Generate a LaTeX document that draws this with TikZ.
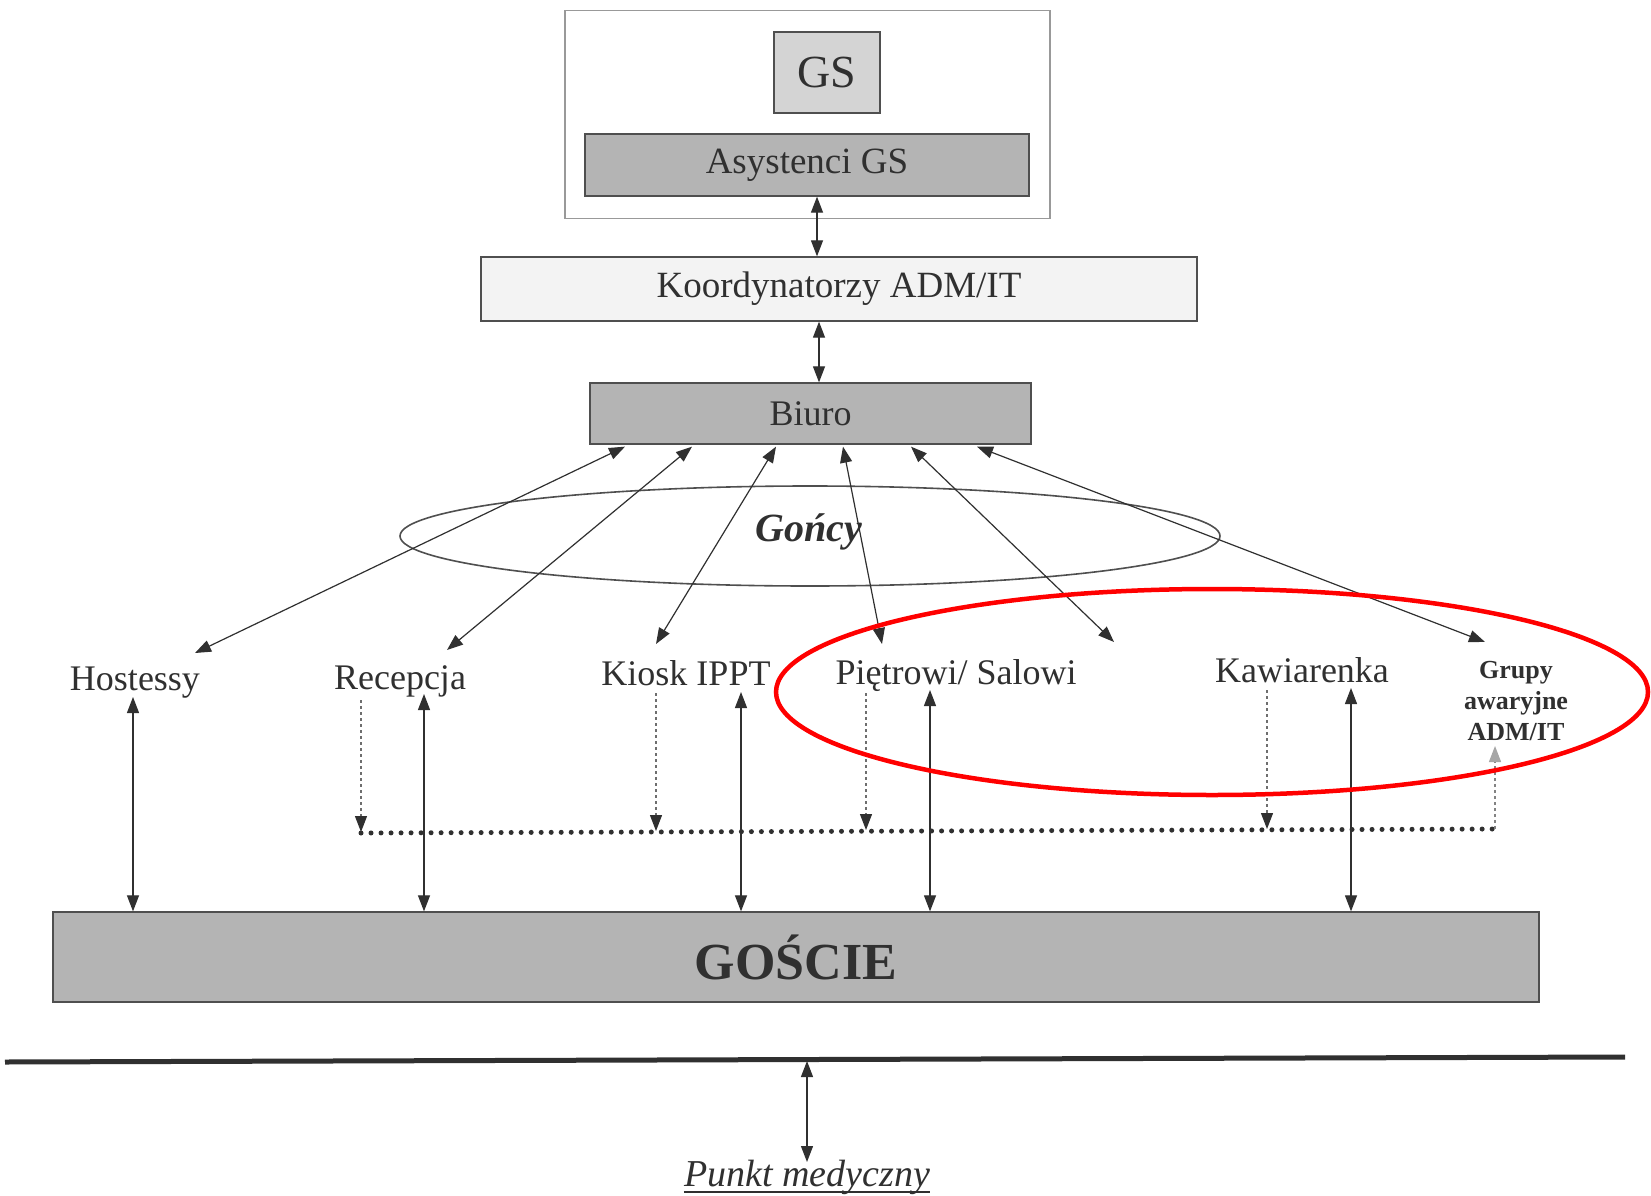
\documentclass[tikz,border=0pt]{standalone}
\usepackage{fontspec}
\setmainfont{Liberation Serif}
\usetikzlibrary{arrows.meta,calc}
\definecolor{ink}{HTML}{303030}
\definecolor{midgrey}{HTML}{B4B4B4}
\definecolor{lightgrey}{HTML}{D4D4D4}
\definecolor{palegrey}{HTML}{F3F3F3}
\begin{document}
\begin{tikzpicture}[x=1pt,y=-1pt,
  box/.style={draw=ink!85, line width=1.3pt, inner sep=0pt, text=ink},
  lab/.style={text=ink, inner sep=0pt, anchor=base, font=\fontsize{36}{40}\selectfont},
  dbl/.style={draw=ink, line width=1.2pt, {Triangle[length=16pt,width=12pt]}-{Triangle[length=16pt,width=12pt]}},
  dotv/.style={draw=ink!70, line width=1.2pt, dash pattern=on 3pt off 3pt, -{Triangle[length=16pt,width=12pt,fill=ink,color=ink]}},
  dotup/.style={draw=ink!60, line width=1.2pt, dash pattern=on 3pt off 3pt, -{Triangle[length=16pt,width=12pt,fill=gray!70,color=gray!70]}},
  dotline/.style={draw=ink, line width=5pt, line cap=round, dash pattern=on 0.01pt off 10pt},
]
\useasboundingbox (0,0) rectangle (1651,1196);
\fill[white] (0,0) rectangle (1651,1196);

% top group
\node[box, draw=gray!80, fill=white, minimum width=485pt, minimum height=208pt] (outer) at (807.5,114.75) {};
\node[box, fill=lightgrey, minimum width=106pt, minimum height=81pt, font=\fontsize{46}{50}\selectfont] (gs) at (827,72.5) {GS};
\node[box, fill=midgrey, minimum width=444pt, minimum height=62pt, font=\fontsize{37}{40}\selectfont] (asy) at (807,165) {Asystenci GS};
\node[box, fill=palegrey, minimum width=716pt, minimum height=64pt, font=\fontsize{37}{40}\selectfont] (koord) at (839,289) {Koordynatorzy ADM/IT};
\node[box, fill=midgrey, minimum width=441pt, minimum height=61pt, font=\fontsize{36}{40}\selectfont] (biuro) at (810.5,413.5) {Biuro};
\node[box, fill=midgrey, minimum width=1486pt, minimum height=90pt, font=\fontsize{52}{56}\selectfont\bfseries] (gos) at (796,957) {GOŚCIE};

\draw[dbl] (asy.south -| 817,0) -- (koord.north -| 817,0);
\draw[dbl] (koord.south -| 819,0) -- (biuro.north -| 819,0);

% Gońcy ellipse
\draw[ink!85, line width=1.6pt] (810,536) ellipse [x radius=410, y radius=50];
\node[text=ink, inner sep=0pt, font=\fontsize{40}{44}\selectfont\bfseries\itshape] (gon) at (809,532) {Gońcy};

% labels
\node[lab] (host) at (135,690.7) {Hostessy};
\node[lab] (rec) at (400,689) {Recepcja};
\node[lab] (kiosk) at (686,685.5) {Kiosk IPPT};
\node[lab] (piet) at (956,684) {Piętrowi/ Salowi};
\node[lab] (kaw) at (1302,682) {Kawiarenka};
\node[text=ink, inner sep=0pt, align=center, font=\fontsize{26}{31}\selectfont\bfseries] (grupy) at (1516,701) {Grupy\\awaryjne\\ADM/IT};

% fan arrow ends
\coordinate (hT) at (195,653);
\coordinate (rT) at (447,650);
\coordinate (kT) at (656,644);
\coordinate (pT) at (882,644);
\coordinate (sT) at (1114,642);
\coordinate (gT) at (1485,642);
\draw[dbl] ($(biuro.south)+(-185.5,2)$) -- (hT);
\draw[dbl] ($(biuro.south)+(-118.5,2)$) -- (rT);
\draw[dbl] ($(biuro.south)+(-34.5,2)$) -- (kT);
\draw[dbl] ($(biuro.south)+(32.5,2)$) -- (pT);
\draw[dbl] ($(biuro.south)+(100.5,2)$) -- (sT);
\draw[dbl] ($(biuro.south)+(166.5,2)$) -- (gT);

% vertical arrows to GOSCIE
\coordinate (hA) at (133,697);
\coordinate (rA) at (424,694);
\coordinate (kA) at (741,692);
\coordinate (pA) at (930,690);
\coordinate (wA) at (1351,688);
\foreach \c in {hA,rA,kA,pA,wA} \draw[dbl] (\c) -- (\c |- gos.north);

% dotted network
\coordinate (dL) at (361,833);
\coordinate (dR) at (1495,829);
\draw[dotline] (dL) -- (dR);
\coordinate (rD) at (361,700);
\coordinate (kD) at (656,693);
\coordinate (pD) at (866,693);
\coordinate (wD) at (1267,690);
\draw[dotv] (rD) -- ($(dL)+(0,-1)$);
\draw[dotv] (kD) -- (656,831);
\draw[dotv] (pD) -- (866,830);
\draw[dotv] (wD) -- (1267,829);
\coordinate (gD) at (1495,746);
\draw[dotup] (dR) -- (gD);

% bottom line and Punkt medyczny
\coordinate (lineL) at (5,1062);
\coordinate (lineR) at (1625,1057);
\draw[ink, line width=5pt] (lineL) -- (lineR);
\coordinate (pm) at (807,1061);
\node[text=ink, inner sep=0pt, anchor=base, font=\fontsize{38}{42}\selectfont\itshape] (punkt) at (807,1186) {Punkt medyczny};
\draw[ink, line width=1.6pt] ($(punkt.base west)+(0,6)$) -- ($(punkt.base east)+(0,6)$);
\draw[dbl] (pm) -- (punkt.north |- 0,1162);

% red highlight
\draw[red, line width=4.5pt] (1212,692) ellipse [x radius=436, y radius=103];
\end{tikzpicture}
\end{document}
